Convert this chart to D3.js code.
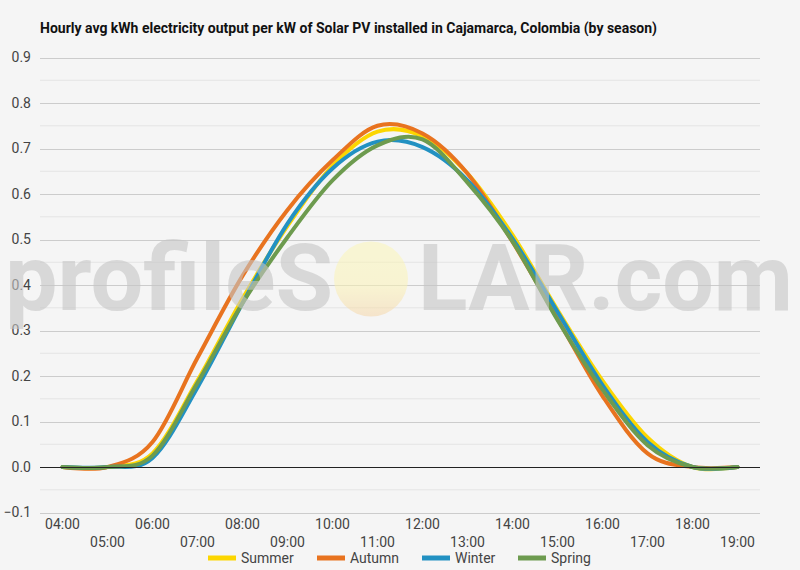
<!DOCTYPE html>
<html><head><meta charset="utf-8">
<script src="https://cdn.jsdelivr.net/npm/d3@7"></script>
<style>body{margin:0;background:#f5f5f5;font-family:Roboto,sans-serif}</style>
</head><body><svg id="c" width="800" height="570"></svg>
<script>
const hours = ["04:00","05:00","06:00","07:00","08:00","09:00","10:00","11:00","12:00","13:00","14:00","15:00","16:00","17:00","18:00","19:00"];
const summer = [0,0,0.03,0.19,0.37,0.53,0.662,0.737,0.727,0.645,0.51,0.345,0.19,0.065,0,0];
const autumn = [0,0,0.055,0.24,0.42,0.565,0.674,0.75,0.733,0.645,0.495,0.326,0.156,0.03,0,0];
const winter = [0,0,0.02,0.175,0.36,0.535,0.656,0.715,0.703,0.63,0.502,0.341,0.18,0.055,0,0];
const spring = [0,0,0.025,0.185,0.36,0.505,0.63,0.707,0.72,0.625,0.496,0.323,0.17,0.048,0,0];
const seriesNames = ["Summer","Autumn","Winter","Spring"];
const seriesColors = ["#fcd600","#e8731f","#2291c2","#6d9b4f"];
const yTicks = [-0.1,0,0.1,0.2,0.3,0.4,0.5,0.6,0.7,0.8,0.9];
const title = "Hourly avg kWh electricity output per kW of Solar PV installed in Cajamarca, Colombia (by season)";

const svg = d3.select("#c");
svg.append("rect").attr("width",800).attr("height",570).attr("fill","#f5f5f5");
const L=40,R=760,T=57.5,B=512.5;
const x = d3.scaleBand().domain(hours).range([L,R]);
const xc = h => x(h)+x.bandwidth()/2;
const y = d3.scaleLinear().domain([-0.1,0.9]).range([B,T]);

svg.append("text").attr("x",40).attr("y",33).attr("font-family","Roboto").attr("font-size",14).attr("font-weight","bold")
  .attr("fill","#111").text(title);

// minor grid
const minor = d3.range(-0.05,0.9,0.1);
svg.append("g").selectAll("line").data(minor).join("line")
  .attr("x1",L).attr("x2",R).attr("y1",d=>y(d)).attr("y2",d=>y(d))
  .attr("stroke","#e4e4e4").attr("stroke-width",1);
// major grid
svg.append("g").selectAll("line").data(yTicks.filter(d=>d!==0)).join("line")
  .attr("x1",L).attr("x2",R).attr("y1",d=>Math.round(y(d))+0.5).attr("y2",d=>Math.round(y(d))+0.5)
  .attr("stroke","#cccccc").attr("stroke-width",1);

// y labels
const yAxis = d3.axisLeft(y).tickValues(yTicks).tickFormat(d3.format(".1f")).tickSize(0).tickPadding(9);
const ga = svg.append("g").attr("transform",`translate(${L},0)`).call(yAxis);
ga.select(".domain").remove();
ga.selectAll("text").attr("font-family","Roboto").attr("font-size",14).attr("fill","#444");

// x labels
const xAxis = d3.axisBottom(x).tickSize(0);
const gx = svg.append("g").attr("transform",`translate(0,${B})`).call(xAxis);
gx.select(".domain").remove();
gx.selectAll("text").attr("font-family","Roboto").attr("font-size",14).attr("fill","#444")
  .attr("dy",null).attr("y",(d,i)=> i%2===0 ? 16 : 34);

// series lines
const data = [summer,autumn,winter,spring];
const line = d3.line().x((d,i)=>xc(hours[i])).y(d=>y(d)).curve(d3.curveCardinal.tension(0));
svg.append("g").selectAll("path").data(data).join("path")
  .attr("d",line).attr("fill","none").attr("stroke",(d,i)=>seriesColors[i])
  .attr("stroke-width",4).attr("stroke-linecap","round").attr("stroke-linejoin","round");

// zero line
svg.append("line").attr("x1",L).attr("x2",R).attr("y1",Math.round(y(0))+0.5).attr("y2",Math.round(y(0))+0.5)
  .attr("stroke","#222").attr("stroke-width",1);

// watermark
const wm = svg.append("g").attr("opacity",0.6);
const grad = svg.append("defs").append("linearGradient").attr("id","sun").attr("x1",0).attr("x2",0).attr("y1",0).attr("y2",1);
grad.append("stop").attr("offset","0").attr("stop-color","#fbf6b8");
grad.append("stop").attr("offset","0.6").attr("stop-color","#fbf3b5");
grad.append("stop").attr("offset","1").attr("stop-color","#f6d6a8");
wm.append("ellipse").attr("cx",371).attr("cy",279).attr("rx",37).attr("ry",37.5).attr("fill","url(#sun)").attr("opacity",0.9);
wm.append("text").attr("x",5).attr("y",310).attr("font-family","Roboto").attr("font-weight","bold").attr("font-size",92)
  .attr("fill","#c6c6c6").attr("textLength",328).attr("lengthAdjust","spacingAndGlyphs").text("profileS");
wm.append("text").attr("x",418).attr("y",310).attr("font-family","Roboto").attr("font-weight","bold").attr("font-size",92)
  .attr("fill","#c6c6c6").attr("textLength",375).attr("lengthAdjust","spacingAndGlyphs").text("LAR.com");

// legend
const legX = [208,317,422,518];
const lg = svg.append("g").selectAll("g").data(seriesNames).join("g")
  .attr("transform",(d,i)=>`translate(${legX[i]},558)`);
lg.append("line").attr("x1",0).attr("x2",28).attr("stroke",(d,i)=>seriesColors[i]).attr("stroke-width",5);
lg.append("text").attr("x",33).attr("y",5).attr("font-family","Roboto").attr("font-size",14).attr("fill","#444").text(d=>d);
</script></body></html>
